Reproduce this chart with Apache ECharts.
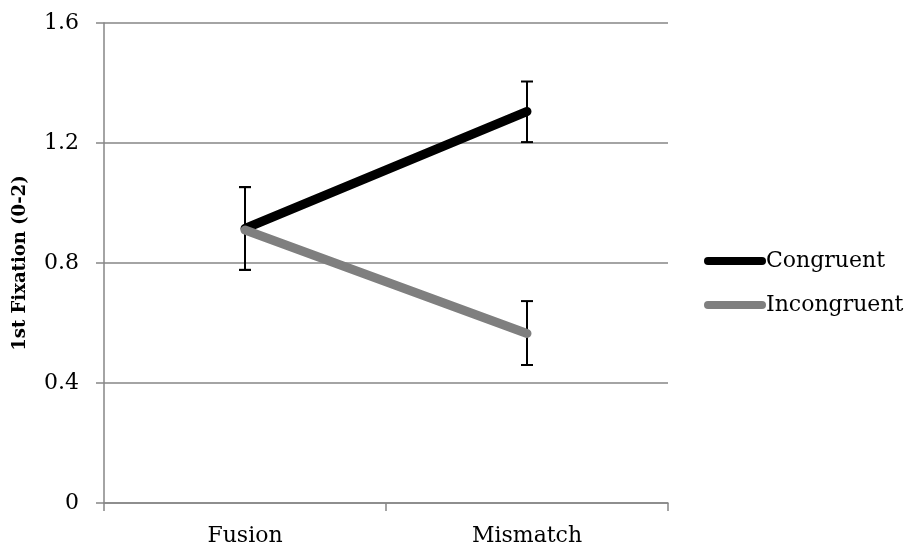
<!DOCTYPE html>
<html><head><meta charset="utf-8">
<script src="https://cdn.jsdelivr.net/npm/echarts@6/dist/echarts.min.js"></script>
<style>html,body{margin:0;padding:0;background:#fff}#c{width:909px;height:548px}</style>
</head><body><div id="c"></div>
<script>
var categories = ['Fusion', 'Mismatch'];
var congruent = [0.915, 1.305];
var incongruent = [0.91, 0.565];
var congruentLow = [0.777, 1.203];
var congruentHigh = [1.053, 1.405];
var incongruentLow = [0.777, 0.46];
var incongruentHigh = [1.053, 0.673];
var yTicks = [0, 0.4, 0.8, 1.2, 1.6];

var FONT = 'DejaVu Serif';
var chart = echarts.init(document.getElementById('c'));

function errSeries(low, high) {
  return {
    type: 'custom', z: 1, silent: true,
    data: low.map(function (l, i) { return [i, l, high[i]]; }),
    renderItem: function (params, api) {
      var lo = api.coord([api.value(0), api.value(1)]);
      var hi = api.coord([api.value(0), api.value(2)]);
      var w = 6;
      var st = { stroke: '#000', lineWidth: 2 };
      return { type: 'group', children: [
        { type: 'line', shape: { x1: hi[0], y1: hi[1], x2: lo[0], y2: lo[1] }, style: st },
        { type: 'line', shape: { x1: hi[0] - w, y1: hi[1], x2: hi[0] + w, y2: hi[1] }, style: st },
        { type: 'line', shape: { x1: lo[0] - w, y1: lo[1], x2: lo[0] + w, y2: lo[1] }, style: st }
      ]};
    }
  };
}

var icon = 'path://M4,0 H58 A4,4 0 0 1 58,8 H4 A4,4 0 0 1 4,0 Z';

chart.setOption({
  animation: false,
  backgroundColor: '#fff',
  grid: { left: 104, right: 241, top: 23, bottom: 45, containLabel: false, outerBoundsMode: 'none' },
  legend: {
    orient: 'vertical', left: 699, top: 245, itemGap: 22,
    itemWidth: 62, itemHeight: 8,
    textStyle: { fontFamily: FONT, fontSize: 22, color: '#000', padding: [0, 0, 0, -5] },
    data: [
      { name: 'Congruent', icon: icon },
      { name: 'Incongruent', icon: icon }
    ]
  },
  xAxis: {
    type: 'category', data: categories, boundaryGap: true,
    axisLine: { lineStyle: { color: '#868686', width: 1.5 } },
    axisTick: { show: true, length: 8, lineStyle: { color: '#868686', width: 1.5 } },
    axisLabel: { fontFamily: FONT, fontSize: 22, color: '#000', margin: 22 }
  },
  yAxis: {
    type: 'value', min: 0, max: 1.6, interval: 0.4,
    name: '1st Fixation (0-2)', nameLocation: 'middle', nameGap: 75,
    nameTextStyle: { fontFamily: FONT, fontSize: 18, fontWeight: 'bold', color: '#000' },
    axisLine: { show: true, lineStyle: { color: '#868686', width: 1.5 } },
    axisTick: { show: true, length: 8, lineStyle: { color: '#868686', width: 1.5 } },
    axisLabel: { fontFamily: FONT, fontSize: 22, color: '#000', margin: 25,
      formatter: function (v) { return yTicks.indexOf(v) >= 0 ? (v === 0 ? '0' : v.toFixed(1)) : ''; } },
    splitLine: { lineStyle: { color: '#868686', width: 1.5 } }
  },
  series: [
    errSeries(congruentLow, congruentHigh),
    errSeries(incongruentLow, incongruentHigh),
    { name: 'Congruent', type: 'line', data: congruent, z: 3, symbol: 'none',
      lineStyle: { color: '#000', width: 9, cap: 'round' }, itemStyle: { color: '#000' } },
    { name: 'Incongruent', type: 'line', data: incongruent, z: 4, symbol: 'none',
      lineStyle: { color: '#7f7f7f', width: 9, cap: 'round' }, itemStyle: { color: '#7f7f7f' } }
  ]
});
</script></body></html>
